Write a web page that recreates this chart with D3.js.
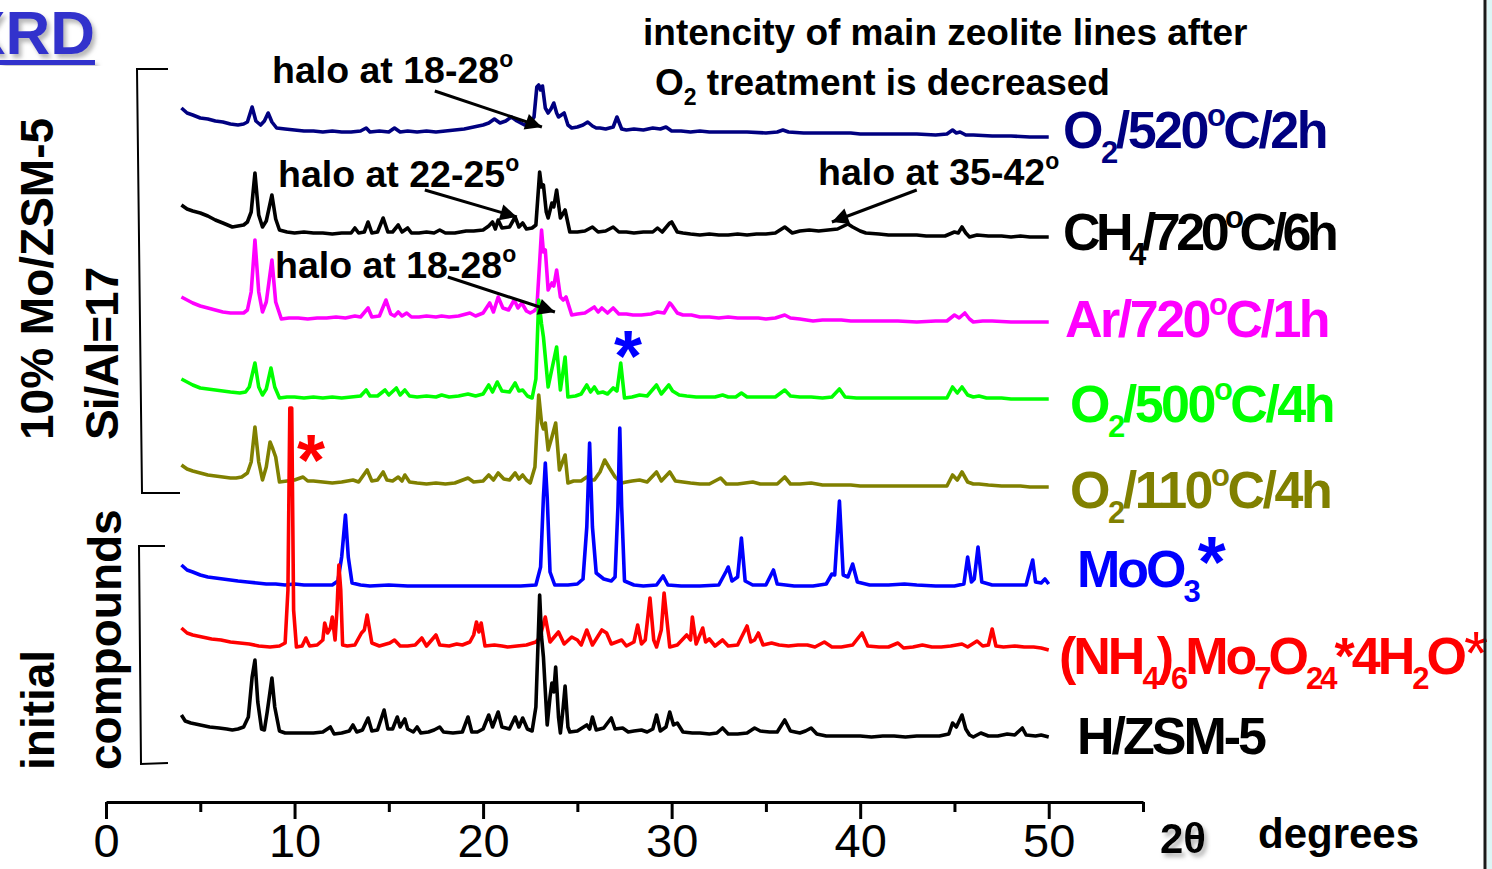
<!DOCTYPE html>
<html>
<head>
<meta charset="utf-8">
<script src="https://cdn.jsdelivr.net/npm/d3@7"></script>
<style>
  body { margin: 0; background: #fff; }
  svg { display: block; font-family: "Liberation Sans", Arial, sans-serif; }
</style>
</head>
<body>
<svg width="1492" height="869"></svg>
<script>
// ---------------- DATA (2theta, intensity above own baseline) ----------------
const o2_520 = [[4.0,29],[4.3,24],[4.6,22],[5.0,19],[5.4,18],[5.8,16],[6.2,15],[6.6,13],[7.0,12],[7.3,13],[7.5,15],[7.75,30],[7.95,16],[8.2,12],[8.4,16],[8.6,24],[8.8,15],[9.05,9],[9.5,8],[10,7],[10.5,6],[11,6],[11.5,5],[12,6],[12.5,5],[13,5],[13.5,6],[13.8,9],[14.0,5],[14.5,6],[15.0,5],[15.3,9],[15.6,5],[16,6],[16.5,5],[17,6],[17.5,5],[18,6],[18.5,7],[19,8],[19.5,10],[20,12],[20.3,14],[20.6,18],[20.9,14],[21.2,16],[21.5,20],[21.8,16],[22.2,12],[22.5,14],[22.7,20],[22.85,50],[22.95,52],[23.05,47],[23.15,51],[23.3,29],[23.45,24],[23.6,28],[23.75,34],[23.9,24],[24.0,20],[24.15,22],[24.3,24],[24.5,12],[24.7,9],[25.0,10],[25.3,12],[25.55,15],[25.8,11],[26.0,9],[26.2,9],[26.5,8],[26.9,10],[27.1,20],[27.35,8],[27.6,7],[28,8],[28.5,7],[29.0,9],[29.4,8],[29.7,10],[30,6],[30.5,6],[31,5],[31.5,6],[32,5],[33,5],[34,5],[35,4],[35.6,5],[35.9,7],[36.2,5],[37,4],[38,4],[38.9,4],[39.5,4],[40,3],[41,3],[42,3],[43,3],[44,2],[44.6,3],[44.9,7],[45.1,4],[45.3,5],[45.6,2],[46,2],[47,1],[48,1],[49,0],[50,0]];

const ch4_720 = [[4.0,32],[4.3,28],[4.6,26],[5.0,24],[5.4,21],[5.8,17],[6.2,14],[6.7,10],[7.0,11],[7.3,12],[7.5,15],[7.7,25],[7.9,64],[8.1,22],[8.3,10],[8.5,16],[8.8,42],[9.0,18],[9.2,7],[9.6,5],[10,4],[10.5,5],[11,4],[11.5,4],[12,3],[12.5,4],[13.0,4],[13.2,9],[13.4,4],[13.7,5],[13.9,15],[14.1,4],[14.4,5],[14.7,19],[14.95,5],[15.2,5],[15.5,12],[15.7,5],[16.0,9],[16.2,4],[16.6,4],[17.0,5],[17.4,4],[17.7,7],[18.0,4],[18.5,4],[19.1,6],[19.5,6],[20.0,7],[20.3,11],[20.5,15],[20.65,8],[20.8,17],[21.0,9],[21.4,10],[21.7,20],[21.9,10],[22.1,14],[22.3,8],[22.6,9],[22.8,12],[23.0,65],[23.1,50],[23.2,52],[23.35,25],[23.45,19],[23.65,34],[23.75,30],[23.9,47],[24.1,19],[24.35,27],[24.6,5],[25.0,5],[25.4,6],[25.8,10],[26.1,5],[26.5,6],[26.9,10],[27.2,5],[27.6,5],[28.0,4],[28.5,5],[29.0,5],[29.25,9],[29.5,5],[29.9,14],[30.0,15],[30.3,5],[30.6,4],[31,3],[31.5,2],[32,3],[32.5,2],[33,2],[33.5,3],[34,2],[34.5,3],[35,3],[35.5,4],[36.0,10],[36.4,4],[36.8,6],[37.3,7],[37.8,6],[38.3,7],[38.8,8],[39.35,13],[39.6,10],[40.0,6],[40.3,4],[41,3],[41.5,2],[42.1,2],[42.5,2],[43,2],[43.5,1],[44,1],[44.5,1],[45.0,5],[45.2,4],[45.4,10],[45.6,4],[45.8,0],[46.2,2],[46.8,1],[47.5,1],[48,0],[48.5,1],[49,0],[49.5,0],[50,0]];

const ar_720 = [[4.0,25],[4.3,22],[4.6,19],[5.0,16],[5.4,14],[5.8,12],[6.2,10],[6.6,9],[7.0,9],[7.3,9],[7.5,12],[7.7,30],[7.9,82],[8.1,30],[8.3,10],[8.5,20],[8.8,62],[9.0,20],[9.3,3],[9.7,4],[10.2,4],[10.7,3],[11.2,4],[11.7,4],[12.2,5],[12.7,4],[13.2,6],[13.5,5],[13.9,14],[14.1,5],[14.5,6],[14.85,22],[15.1,8],[15.3,6],[15.5,10],[15.7,6],[15.95,9],[16.2,5],[16.6,5],[17.0,6],[17.5,5],[17.8,6],[18.2,5],[18.7,6],[19.3,9],[19.6,6],[20.0,9],[20.35,19],[20.55,10],[20.8,25],[21.05,14],[21.35,12],[21.65,22],[21.85,14],[22.05,19],[22.3,11],[22.5,9],[22.7,11],[22.85,14],[23.0,60],[23.1,92],[23.2,70],[23.3,72],[23.45,32],[23.65,39],[23.75,36],[23.9,52],[24.1,25],[24.25,22],[24.4,25],[24.7,7],[25.0,8],[25.4,9],[25.9,15],[26.1,10],[26.3,14],[26.6,9],[26.9,14],[27.2,8],[27.6,8],[27.95,7],[28.4,7],[28.9,8],[29.25,10],[29.6,9],[29.9,19],[30.0,17],[30.3,9],[30.6,7],[31.05,7],[31.5,5],[32,5],[32.5,4],[33,5],[33.5,4],[34,4],[34.6,4],[35,3],[35.5,4],[36.0,7],[36.3,4],[36.8,3],[37.5,1],[38,2],[38.5,2],[39,2],[39.5,1],[40,1],[41,1],[42,1],[43,0],[44,1],[44.6,1],[45.0,7],[45.25,4],[45.55,9],[45.8,3],[46.0,0],[46.5,1],[47,1],[48,0],[49,0],[50,0]];

const o2_500 = [[4.0,20],[4.3,17],[4.6,14],[5.0,11],[5.4,10],[5.8,9],[6.2,8],[6.6,7],[7.1,6],[7.4,7],[7.6,12],[7.9,36],[8.1,12],[8.3,4],[8.5,10],[8.75,31],[8.95,12],[9.2,1],[9.6,2],[10,2],[10.5,1],[11,2],[11.5,1],[12,2],[12.5,1],[13,2],[13.5,3],[13.8,9],[14.0,3],[14.4,3],[14.8,9],[15.0,4],[15.4,11],[15.6,4],[15.85,9],[16.1,3],[16.5,2],[17,3],[17.5,2],[17.8,4],[18.2,2],[18.7,3],[19.2,5],[19.6,3],[20.0,5],[20.3,14],[20.5,7],[20.75,17],[21.0,8],[21.4,7],[21.7,16],[21.9,8],[22.1,9],[22.35,3],[22.6,1],[22.8,20],[22.95,99],[23.1,75],[23.2,62],[23.45,12],[23.65,30],[23.9,52],[24.1,9],[24.35,42],[24.5,2],[24.9,3],[25.2,5],[25.5,14],[25.7,7],[25.9,12],[26.1,6],[26.35,7],[26.6,5],[26.9,11],[27.1,8],[27.3,36],[27.5,1],[27.9,2],[28.3,4],[28.7,3],[29.2,14],[29.45,5],[29.85,14],[30.05,8],[30.4,4],[30.8,3],[31.3,2],[31.8,2],[32.3,2],[32.7,4],[33.0,2],[33.4,2],[33.7,6],[34.0,2],[34.5,2],[35,2],[35.5,2],[36.0,9],[36.3,3],[36.8,2],[37.4,2],[38,1],[38.5,2],[38.9,10],[39.2,2],[39.8,1],[40.5,1],[41,1],[42,1],[43,1],[44,1],[44.6,1],[44.9,12],[45.15,6],[45.4,12],[45.7,4],[46.0,2],[46.3,3],[46.7,1],[47.5,1],[48,0],[49,0],[50,0]];

const o2_110 = [[4.0,22],[4.3,18],[4.6,16],[5.0,14],[5.4,12],[5.8,11],[6.2,10],[6.6,9],[6.9,9],[7.2,10],[7.5,14],[7.7,25],[7.9,60],[8.1,25],[8.3,7],[8.5,20],[8.7,45],[8.85,38],[9.0,30],[9.2,5],[9.6,6],[10.0,7],[10.45,10],[10.7,6],[11.0,6],[11.5,5],[12.0,4],[12.5,5],[13.1,7],[13.4,5],[13.85,17],[14.1,6],[14.4,7],[14.7,15],[14.9,7],[15.2,6],[15.5,10],[15.7,6],[15.85,12],[16.1,5],[16.5,4],[17.0,3],[17.5,4],[18,3],[18.5,4],[19.2,9],[19.5,5],[20.0,6],[20.3,12],[20.55,7],[20.8,14],[21.1,8],[21.4,7],[21.7,14],[21.9,8],[22.1,12],[22.3,7],[22.5,4],[22.75,20],[22.95,92],[23.1,64],[23.2,58],[23.3,64],[23.45,37],[23.65,50],[23.85,64],[24.05,17],[24.35,32],[24.5,4],[24.8,6],[25.2,6],[25.5,10],[25.7,7],[25.9,7],[26.2,15],[26.45,27],[26.7,19],[27.0,10],[27.35,4],[27.6,5],[27.9,6],[28.3,7],[28.7,5],[29.2,15],[29.45,6],[29.9,15],[30.2,6],[30.6,5],[31,4],[31.5,3],[32,3],[32.6,9],[32.9,3],[33.5,3],[34.3,5],[34.7,3],[35.2,3],[35.6,3],[36.0,10],[36.3,3],[36.8,3],[37.4,4],[38,2],[38.5,2],[39,2],[39.5,2],[40,1],[41,1],[42,1],[43,1],[44,1],[44.6,1],[44.9,12],[45.15,7],[45.4,15],[45.7,5],[46.0,3],[46.3,3],[46.8,2],[47.5,1],[48,1],[48.5,1],[49,0],[50,0]];

const moo3 = [[4.0,22],[4.3,17],[4.6,15],[5.0,12],[5.4,10],[5.8,9],[6.2,8],[6.6,7],[7.0,6],[7.5,5],[8.0,4],[8.5,3],[9.0,3],[9.5,2],[10,3],[10.5,2],[11,2],[11.5,2],[12.0,2],[12.3,6],[12.5,30],[12.7,72],[12.85,30],[13.05,4],[13.5,2],[14,1],[15,2],[16,1],[17,1],[18,1],[19,1],[20,1],[21,1],[22,1],[22.8,2],[23.05,20],[23.2,90],[23.3,124],[23.4,90],[23.55,15],[23.8,2],[24.5,2],[25.0,3],[25.3,8],[25.5,60],[25.65,144],[25.8,60],[26.0,14],[26.4,8],[26.8,6],[27.0,10],[27.15,80],[27.25,159],[27.35,80],[27.5,6],[28,2],[28.5,1],[29.2,2],[29.55,11],[29.8,2],[30.5,1],[31.5,1],[32.5,2],[32.9,16],[33.0,20],[33.2,6],[33.5,10],[33.7,49],[33.9,6],[34.3,2],[35.0,2],[35.4,17],[35.6,3],[36.5,1],[37.5,1],[38.2,3],[38.5,13],[38.65,12],[38.9,86],[39.1,12],[39.35,10],[39.6,23],[39.85,5],[40.5,2],[41.5,2],[42.35,3],[43,2],[44,1],[45,1],[45.5,3],[45.7,30],[45.9,5],[46.05,8],[46.25,40],[46.45,5],[47,2],[48,2],[48.8,2],[49.05,20],[49.15,27],[49.3,5],[49.6,4],[49.8,8],[50,3]];

const ahm = [[4.0,22],[4.3,17],[4.6,15],[5.1,13],[5.6,11],[6.1,10],[6.6,8],[7.1,7],[7.6,6],[8.1,4],[8.7,3],[9.2,4],[9.5,7],[9.65,60],[9.75,242],[9.85,242],[9.95,40],[10.1,3],[10.4,4],[10.6,12],[10.8,4],[11.2,5],[11.5,10],[11.6,27],[11.75,17],[11.9,22],[12.0,33],[12.15,10],[12.25,40],[12.35,85],[12.45,60],[12.55,5],[12.8,4],[13.2,5],[13.55,17],[13.7,20],[13.85,35],[14.1,7],[14.5,4],[15.05,7],[15.3,10],[15.6,4],[16.0,4],[16.4,5],[16.75,12],[17.0,4],[17.5,15],[17.7,5],[18.2,4],[18.6,6],[18.9,5],[19.3,8],[19.5,15],[19.65,28],[19.78,18],[19.9,27],[20.1,4],[20.6,5],[21.0,4],[21.3,3],[21.8,4],[22.3,5],[22.8,8],[23.0,12],[23.3,33],[23.55,8],[24.0,18],[24.3,6],[24.7,13],[25.0,10],[25.2,5],[25.5,20],[25.8,5],[26.3,20],[26.55,17],[26.8,6],[27.35,10],[27.6,4],[28.0,8],[28.2,25],[28.4,6],[28.6,10],[28.85,52],[29.05,10],[29.2,3],[29.45,20],[29.6,57],[29.75,30],[29.9,3],[30.3,5],[30.8,15],[31.0,10],[31.1,33],[31.3,6],[31.65,22],[31.8,8],[32.0,11],[32.3,4],[32.7,10],[33.0,4],[33.5,5],[34.0,24],[34.2,8],[34.4,10],[34.6,17],[34.85,5],[35.3,7],[35.7,5],[36.2,4],[36.7,5],[37.2,5],[37.6,3],[38.1,8],[38.5,3],[39.0,3],[39.6,5],[40.1,17],[40.4,4],[41,3],[41.5,3],[42.0,7],[42.3,2],[42.8,3],[43.3,5],[43.8,3],[44.3,3],[44.8,4],[45.4,6],[45.7,3],[46.2,9],[46.5,4],[46.8,5],[47.0,21],[47.2,4],[47.6,3],[48.2,4],[48.7,3],[49.2,3],[49.6,2],[50,0]];

const hzsm5 = [[4.0,22],[4.2,16],[4.5,14],[5.0,12],[5.5,10],[6.0,9],[6.4,8],[6.7,7],[7.0,8],[7.3,10],[7.55,20],[7.75,60],[7.9,77],[8.05,35],[8.25,8],[8.4,7],[8.55,25],[8.8,59],[8.95,30],[9.2,6],[9.5,4],[10,4],[10.5,4],[11,4],[11.5,5],[11.9,10],[12.1,3],[12.5,4],[12.9,6],[13.1,12],[13.3,5],[13.6,7],[13.9,19],[14.1,6],[14.4,7],[14.75,27],[14.95,8],[15.2,8],[15.45,20],[15.6,10],[15.85,18],[16.0,8],[16.3,5],[16.5,10],[16.7,4],[17.1,5],[17.4,7],[17.7,10],[17.9,5],[18.4,4],[18.9,5],[19.2,20],[19.4,5],[19.7,5],[20.0,8],[20.3,22],[20.5,10],[20.8,25],[21.0,10],[21.4,8],[21.7,20],[21.9,10],[22.1,19],[22.35,8],[22.6,6],[22.8,30],[23.0,142],[23.1,100],[23.2,80],[23.4,12],[23.55,40],[23.65,54],[23.75,45],[23.85,70],[24.0,20],[24.1,4],[24.25,30],[24.35,51],[24.5,10],[24.6,5],[25.0,6],[25.5,12],[25.65,8],[25.8,20],[26.0,7],[26.4,9],[26.8,19],[27.0,8],[27.4,9],[27.7,5],[28.0,6],[28.4,7],[28.7,5],[29.0,8],[29.2,22],[29.4,6],[29.7,10],[29.9,25],[30.1,12],[30.3,14],[30.6,5],[31.1,4],[31.5,4],[32.0,3],[32.4,4],[32.7,9],[33.0,3],[33.5,3],[34.0,4],[34.4,9],[34.7,6],[35.2,5],[35.6,5],[36.0,17],[36.3,6],[36.8,4],[37.1,6],[37.4,9],[37.7,3],[38.2,1],[38.8,1],[39.4,1],[40,1],[40.6,0],[41.2,1],[41.8,1],[42.4,0],[43,1],[43.6,1],[44.2,1],[44.7,3],[44.9,14],[45.1,10],[45.4,22],[45.6,8],[45.8,2],[46.0,0],[46.4,4],[46.8,1],[47.3,1],[47.8,3],[48.2,2],[48.6,9],[48.8,2],[49.3,1],[49.6,2],[50,0]];

// stacking order (top to bottom) and vertical offsets of each pattern
const patterns = [o2_520, ch4_720, ar_720, o2_500, o2_110, moo3, ahm, hzsm5];
const offsets  = [663, 563, 478, 401, 313, 213, 150, 63];
const colors   = ['#000080', '#000000', '#ff00ff', '#00ff00', '#808000', '#0000ff', '#ff0000', '#000000'];

const majorTicks = [0, 10, 20, 30, 40, 50];
const minorTicks = [5, 15, 25, 35, 45, 55];

// ---------------- SCALES ----------------
const svg = d3.select('svg');

const defs = svg.append('defs');
defs.append('filter').attr('id', 'shadow')
    .append('feDropShadow')
    .attr('dx', 3).attr('dy', 4).attr('stdDeviation', 2)
    .attr('flood-color', '#999').attr('flood-opacity', 0.7);
defs.append('marker')
    .attr('id', 'arrow')
    .attr('viewBox', '0 0 10 10')
    .attr('refX', 10).attr('refY', 5)
    .attr('markerWidth', 8).attr('markerHeight', 5.5)
    .attr('markerUnits', 'strokeWidth')
    .attr('orient', 'auto')
  .append('path')
    .attr('d', 'M0,0 L10,5 L0,10 Z')
    .attr('fill', '#000');

const xScale = d3.scaleLinear().domain([0, 55]).range([106, 1143]);
const yScale = d3.scaleLinear().domain([0, 800]).range([800, 0]);

// ---------------- AXIS ----------------
const axisY = 802;
const major = svg.append('g')
    .attr('transform', `translate(0,${axisY})`)
    .call(d3.axisBottom(xScale).tickValues(majorTicks).tickSize(17).tickSizeOuter(0).tickPadding(5));
major.select('.domain').attr('stroke-width', 3);
major.selectAll('.tick line').attr('stroke-width', 3);
major.selectAll('.tick text')
    .attr('font-size', 47)
    .attr('font-family', '"Liberation Sans", Arial, sans-serif')
    .attr('fill', '#000');

const minor = svg.append('g')
    .attr('transform', `translate(0,${axisY})`)
    .call(d3.axisBottom(xScale).tickValues(minorTicks).tickSize(10).tickSizeOuter(0).tickFormat(''));
minor.select('.domain').remove();
minor.selectAll('.tick line').attr('stroke-width', 3);

// ---------------- PATTERNS ----------------
patterns.forEach((data, i) => {
  const line = d3.line()
      .x(d => xScale(d[0]))
      .y(d => yScale(d[1] + offsets[i]));
  svg.append('path')
      .datum(data)
      .attr('fill', 'none')
      .attr('stroke', colors[i])
      .attr('stroke-width', 3.6)
      .attr('stroke-linejoin', 'round')
      .attr('d', line);
});

// ---------------- TEXT HELPERS ----------------
function rich(x, y, parts, opt) {
  const t = svg.append('text')
      .attr('x', x).attr('y', y)
      .attr('fill', opt.color || '#000')
      .attr('font-size', opt.size)
      .attr('font-weight', opt.weight || 'bold')
      .attr('letter-spacing', opt.ls || 0);
  let shift = 0;
  parts.forEach(p => {
    let target = 0, fs = null;
    if (p.sub) { target = opt.subShift; fs = opt.small; }
    if (p.sup) { target = -opt.supShift; fs = opt.small; }
    const s = t.append('tspan').attr('dy', target - shift).text(p.t);
    if (fs) s.attr('font-size', fs);
    if (p.size) s.attr('font-size', p.size);
    if (p.weight) s.attr('font-weight', p.weight);
    shift = target;
  });
  return t;
}

// sample labels on the right
const labelOpt = {size: 52, small: 31, subShift: 15, supShift: 22, ls: -3};
const labels = [
  {x: 1063, y: 148, ls: -2.5, parts: [{t: 'O'}, {t: '2', sub: 1}, {t: '/520'}, {t: 'o', sup: 1}, {t: 'C/2h'}]},
  {x: 1063, y: 250, ls: -4.5, parts: [{t: 'CH'}, {t: '4', sub: 1}, {t: '/720'}, {t: 'o', sup: 1}, {t: 'C/6h'}]},
  {x: 1065, y: 337, ls: -2.5, parts: [{t: 'Ar/720'}, {t: 'o', sup: 1}, {t: 'C/1h'}]},
  {x: 1070, y: 422, ls: -2.5, parts: [{t: 'O'}, {t: '2', sub: 1}, {t: '/500'}, {t: 'o', sup: 1}, {t: 'C/4h'}]},
  {x: 1070, y: 508, ls: -2.5, parts: [{t: 'O'}, {t: '2', sub: 1}, {t: '/110'}, {t: 'o', sup: 1}, {t: 'C/4h'}]},
  {x: 1077, y: 587, ls: -3, parts: [{t: 'MoO'}, {t: '3', sub: 1}, {t: '*', size: 72}]},
  {x: 1059, y: 674, ls: -3, parts: [{t: '(NH'}, {t: '4', sub: 1}, {t: ')'}, {t: '6', sub: 1}, {t: 'Mo'}, {t: '7', sub: 1}, {t: 'O'}, {t: '24', sub: 1}, {t: '*4H'}, {t: '2', sub: 1}, {t: 'O'}, {t: '*', size: 62, weight: 'normal'}]},
  {x: 1077, y: 754, ls: -3, parts: [{t: 'H/ZSM-5'}]}
];
labels.forEach((l, i) => rich(l.x, l.y, l.parts, Object.assign({}, labelOpt, {color: colors[i], ls: l.ls})));

// annotations
const annOpt = {size: 37.5, small: 23, subShift: 10, supShift: 16, ls: 0};
rich(272, 83, [{t: 'halo at 18-28'}, {t: 'o', sup: 1}], annOpt);
rich(278, 187, [{t: 'halo at 22-25'}, {t: 'o', sup: 1}], annOpt);
rich(818, 185, [{t: 'halo at 35-42'}, {t: 'o', sup: 1}], annOpt);
rich(275, 278, [{t: 'halo at 18-28'}, {t: 'o', sup: 1}], annOpt);
rich(643, 45, [{t: 'intencity of main zeolite lines after'}], Object.assign({}, annOpt, {size: 37}));
rich(655, 95, [{t: 'O'}, {t: '2', sub: 1}, {t: ' treatment is decreased'}], Object.assign({}, annOpt, {size: 37}));

// arrows: [2theta tail, level tail, 2theta tip, level tip]
const arrows = [
  [17.44, 709, 23.12, 673],
  [16.91, 610, 21.79, 583],
  [43.0, 610, 38.5, 578],
  [18.13, 523, 23.81, 488]
];
arrows.forEach(a => {
  svg.append('line')
      .attr('x1', xScale(a[0])).attr('y1', yScale(a[1]))
      .attr('x2', xScale(a[2])).attr('y2', yScale(a[3]))
      .attr('stroke', '#000').attr('stroke-width', 3)
      .attr('marker-end', 'url(#arrow)');
});

// stars marking MoO3 and AHM reflections
svg.append('text').attr('x', 311).attr('y', 485).attr('text-anchor', 'middle')
    .attr('font-size', 72).attr('font-weight', 'bold').attr('fill', '#ff0000').text('*');
svg.append('text').attr('x', 628).attr('y', 381).attr('text-anchor', 'middle')
    .attr('font-size', 72).attr('font-weight', 'bold').attr('fill', '#0000ff').text('*');

// brackets grouping the samples
svg.append('path').attr('d', 'M168,69 L137,69 L142,493 L180,493')
    .attr('fill', 'none').attr('stroke', '#000').attr('stroke-width', 2);
svg.append('path').attr('d', 'M165,546 L139,546 L141,764 L168,763')
    .attr('fill', 'none').attr('stroke', '#000').attr('stroke-width', 2);

// rotated group titles
function vtext(x, y, txt, ls) {
  svg.append('text')
      .attr('transform', `translate(${x},${y}) rotate(-90)`)
      .attr('font-size', 46).attr('font-weight', 'bold')
      .attr('letter-spacing', ls).text(txt);
}
vtext(53, 440, '10% Mo/ZSM-5', 0);
vtext(118, 440, 'Si/Al=17', -1);
vtext(54, 770, 'initial', 0);
vtext(121, 770, 'compounds', 0);

// axis title
svg.append('text').attr('x', 1160).attr('y', 853).attr('font-size', 42).attr('font-weight', 'bold')
    .attr('filter', 'url(#shadow)').text('2θ');
svg.append('text').attr('x', 1258).attr('y', 848).attr('font-size', 42).attr('font-weight', 'bold')
    .text('degrees');

// slide title fragment
svg.append('text').attr('x', 95).attr('y', 54).attr('text-anchor', 'end')
    .attr('font-size', 62).attr('font-weight', 'bold').attr('fill', '#3333cc')
    .attr('filter', 'url(#shadow)').text('XRD');
svg.append('rect').attr('x', 0).attr('y', 60).attr('width', 95).attr('height', 5)
    .attr('fill', '#3333cc').attr('filter', 'url(#shadow)');

// slide border on the right
svg.append('rect').attr('x', 1487).attr('y', 0).attr('width', 5).attr('height', 869).attr('fill', '#dcf6f6');
svg.append('line').attr('x1', 1485).attr('x2', 1485).attr('y1', 0).attr('y2', 869)
    .attr('stroke', '#1a1a1a').attr('stroke-width', 3);
</script>
</body>
</html>
